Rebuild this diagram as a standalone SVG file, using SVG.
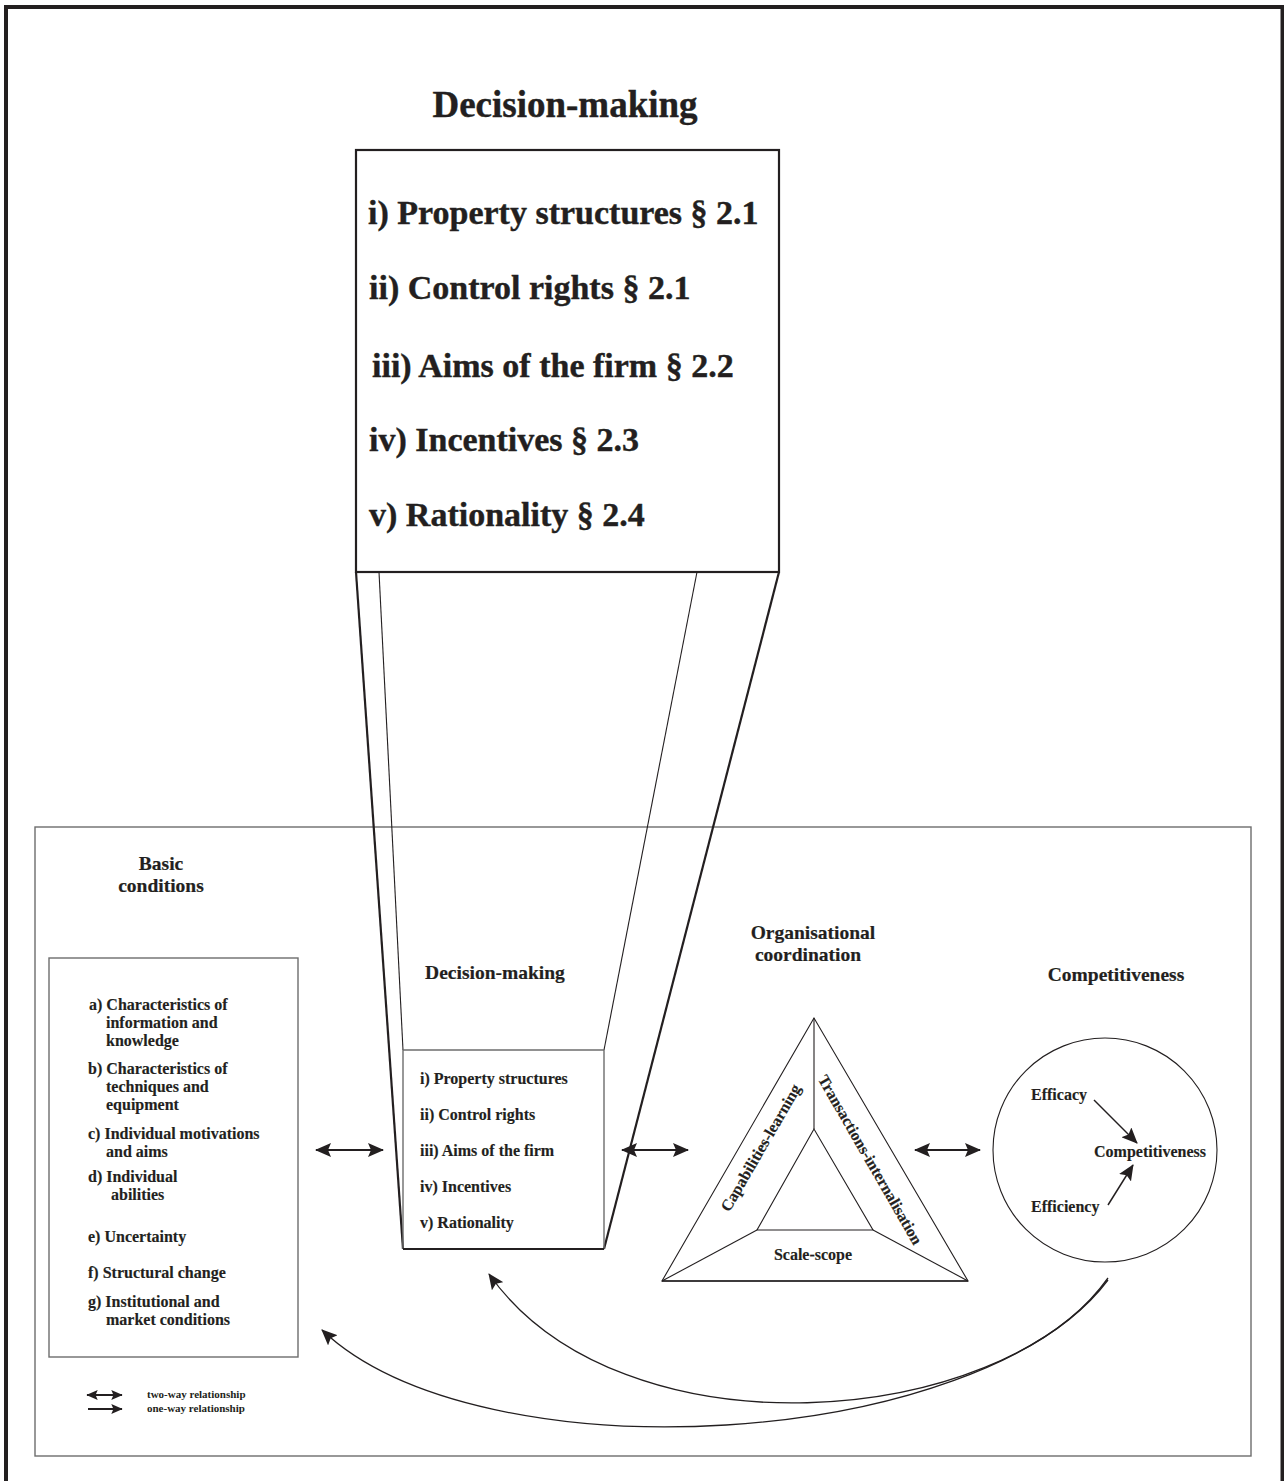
<svg xmlns="http://www.w3.org/2000/svg" width="1284" height="1481" viewBox="0 0 1284 1481">
  <style>
    text { font-family: "Liberation Serif", "Times New Roman", serif; font-weight: bold; fill: #231f20; }
    .big { font-size: 34px; stroke: #231f20; stroke-width: 0.4; }
    .title { font-size: 37px; stroke: #231f20; stroke-width: 0.4; }
    .head { font-size: 19.5px; stroke: #231f20; stroke-width: 0.2; }
    .item { font-size: 16px; stroke: #231f20; stroke-width: 0.15; }
    .tri { font-size: 16px; stroke: #231f20; stroke-width: 0.15; }
    .leg { font-size: 11px; }
    .thick { fill: none; stroke: #231f20; stroke-width: 2.2; }
    .thin { fill: none; stroke: #231f20; stroke-width: 1.1; }
    .grey { fill: none; stroke: #6d6d6d; stroke-width: 1.4; }
    .conn { fill: none; stroke: #231f20; stroke-width: 2; }
    .curve { fill: none; stroke: #231f20; stroke-width: 1.3; }
  </style>
  <defs>
    <marker id="head" viewBox="0 0 16 14" refX="15" refY="7" markerWidth="16" markerHeight="14" markerUnits="userSpaceOnUse" orient="auto-start-reverse">
      <path d="M0,0 L16,7 L0,14 L3,7 Z" fill="#231f20"/>
    </marker>
    <marker id="headS" viewBox="0 0 16 14" refX="15" refY="7" markerWidth="12" markerHeight="10" markerUnits="userSpaceOnUse" orient="auto-start-reverse">
      <path d="M0,0 L16,7 L0,14 L3,7 Z" fill="#231f20"/>
    </marker>
  </defs>

  <rect x="0" y="0" width="1284" height="1481" fill="#ffffff"/>

  <!-- page frame -->
  <rect x="6" y="7" width="1276.5" height="1490" fill="none" stroke="#231f20" stroke-width="4"/>

  <!-- framework panel -->
  <rect id="framework" x="35" y="827" width="1216" height="629" class="grey"/>

  <!-- enlarged decision-making box -->
  <g id="decision-detail">
    <text class="title" x="565" y="117" text-anchor="middle">Decision-making</text>
    <rect x="356" y="150" width="423" height="422" class="thick"/>
    <text class="big" x="368" y="224">i) Property structures § 2.1</text>
    <text class="big" x="369" y="299">ii) Control rights § 2.1</text>
    <text class="big" x="372" y="377">iii) Aims of the firm § 2.2</text>
    <text class="big" x="369" y="451">iv) Incentives § 2.3</text>
    <text class="big" x="369" y="526">v) Rationality § 2.4</text>
  </g>

  <!-- zoom projection lines -->
  <g id="projection">
    <line x1="356" y1="572" x2="403" y2="1249" class="thick"/>
    <line x1="779" y1="572" x2="604" y2="1249" class="thick"/>
    <line x1="379" y1="572" x2="403" y2="1050" class="thin"/>
    <line x1="697" y1="572" x2="604" y2="1050" class="thin"/>
  </g>

  <!-- basic conditions -->
  <g id="basic-conditions">
    <text class="head" x="161" y="870" text-anchor="middle">Basic</text>
    <text class="head" x="161" y="892" text-anchor="middle">conditions</text>
    <rect x="49" y="958" width="249" height="399" class="grey"/>
    <text class="item" x="89" y="1010">a) Characteristics of</text>
    <text class="item" x="106" y="1028">information and</text>
    <text class="item" x="106" y="1046">knowledge</text>
    <text class="item" x="88" y="1074">b) Characteristics of</text>
    <text class="item" x="106" y="1092">techniques and</text>
    <text class="item" x="106" y="1110">equipment</text>
    <text class="item" x="88" y="1139">c) Individual motivations</text>
    <text class="item" x="106" y="1157">and aims</text>
    <text class="item" x="88" y="1182">d) Individual</text>
    <text class="item" x="111" y="1200">abilities</text>
    <text class="item" x="88" y="1242">e) Uncertainty</text>
    <text class="item" x="88" y="1278">f) Structural change</text>
    <text class="item" x="88" y="1307">g) Institutional and</text>
    <text class="item" x="106" y="1325">market conditions</text>
  </g>

  <!-- decision-making -->
  <g id="decision-making">
    <text class="head" x="495" y="979" text-anchor="middle">Decision-making</text>
    <polyline points="403,1249 403,1050 604,1050 604,1249" class="grey"/>
    <line x1="403" y1="1249" x2="604" y2="1249" class="thick"/>
    <text class="item" x="420" y="1084">i) Property structures</text>
    <text class="item" x="420" y="1120">ii) Control rights</text>
    <text class="item" x="420" y="1156">iii) Aims of the firm</text>
    <text class="item" x="420" y="1192">iv) Incentives</text>
    <text class="item" x="420" y="1228">v) Rationality</text>
  </g>

  <!-- organisational coordination -->
  <g id="organisational-coordination">
    <text class="head" x="813" y="939" text-anchor="middle">Organisational</text>
    <text class="head" x="808" y="961" text-anchor="middle">coordination</text>
    <polygon points="814,1018 662,1281 968,1281" class="thin"/>
    <polygon points="814,1129 757,1230 873,1230" class="thin"/>
    <line x1="814" y1="1018" x2="814" y2="1129" class="thin"/>
    <line x1="757" y1="1230" x2="662" y2="1281" class="thin"/>
    <line x1="873" y1="1230" x2="968" y2="1281" class="thin"/>
    <line x1="662" y1="1281" x2="968" y2="1281" class="conn" style="stroke-width:1.6"/>
    <text class="tri" transform="translate(761,1148) rotate(-60)" text-anchor="middle" dy="5">Capabilities-learning</text>
    <text class="tri" transform="translate(870,1160) rotate(60)" text-anchor="middle" dy="5">Transactions-internalisation</text>
    <text class="tri" x="813" y="1260" text-anchor="middle">Scale-scope</text>
  </g>

  <!-- competitiveness -->
  <g id="competitiveness">
    <text class="head" x="1116" y="981" text-anchor="middle">Competitiveness</text>
    <circle cx="1105" cy="1150" r="112" class="thin"/>
    <text class="item" x="1031" y="1100">Efficacy</text>
    <text class="item" x="1094" y="1157">Competitiveness</text>
    <text class="item" x="1031" y="1212">Efficiency</text>
    <line x1="1094" y1="1100" x2="1137" y2="1143" class="conn" style="stroke-width:1.5" marker-end="url(#head)"/>
    <line x1="1108" y1="1205" x2="1133" y2="1165" class="conn" style="stroke-width:1.5" marker-end="url(#head)"/>
  </g>

  <!-- relationships -->
  <g id="connectors">
    <line x1="316" y1="1150" x2="383" y2="1150" class="conn" marker-start="url(#head)" marker-end="url(#head)"/>
    <line x1="622" y1="1150" x2="688" y2="1150" class="conn" marker-start="url(#head)" marker-end="url(#head)"/>
    <line x1="915" y1="1150" x2="980" y2="1150" class="conn" marker-start="url(#head)" marker-end="url(#head)"/>
    <path d="M1108,1278 C1000,1430 620,1460 489,1274" class="curve" marker-end="url(#head)"/>
    <path d="M1108,1280 C980,1450 480,1480 322,1330" class="curve" marker-end="url(#head)"/>
  </g>

  <!-- legend -->
  <g id="legend">
    <line x1="87" y1="1395" x2="122" y2="1395" class="conn" marker-start="url(#headS)" marker-end="url(#headS)"/>
    <line x1="88" y1="1409" x2="122" y2="1409" class="conn" marker-end="url(#headS)"/>
    <text class="leg" x="147" y="1398">two-way relationship</text>
    <text class="leg" x="147" y="1412">one-way relationship</text>
  </g>
</svg>
